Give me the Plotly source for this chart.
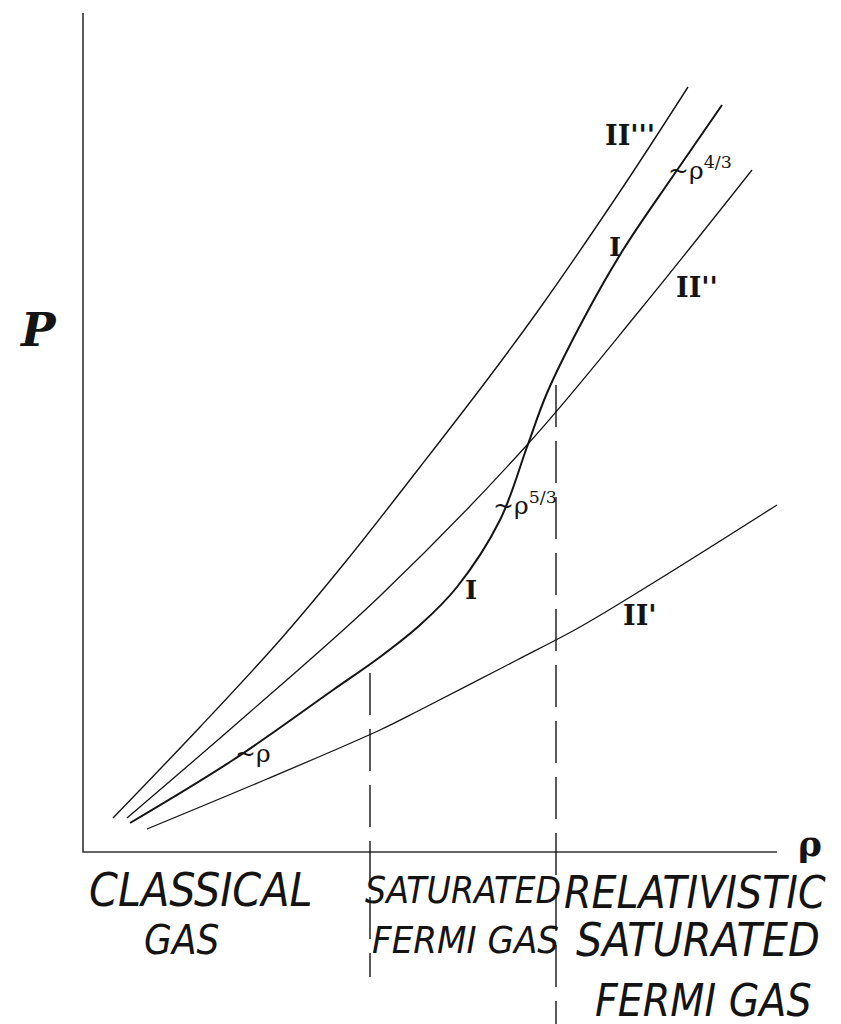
import plotly.graph_objects as go

# sketch units: density rho to the right, pressure P upward, origin at axis corner
rho_II3 = [30, 117, 197, 264, 337, 404, 457, 540, 605]
P_II3 = [34, 125, 212, 292, 385, 472, 544, 665, 765]

rho_I = [47, 150, 250, 297, 337, 374, 417, 444, 464, 500, 540, 590, 639]
P_I = [29, 92, 162, 195, 227, 265, 332, 405, 459, 532, 602, 676, 747]

rho_II2 = [44, 167, 297, 444, 557, 669]
P_II2 = [34, 140, 256, 407, 542, 682]

rho_II1 = [64, 184, 297, 337, 434, 497, 570, 694]
P_II1 = [23, 73, 122, 142, 192, 225, 269, 347]

# regime boundaries (dashed)
bound_rho = [287, 473]
bound_top = [179, 467]
bound_bottom = [-125, -172]

axis_rho_max = 694
axis_P_max = 839

ink = "#141414"
fig = go.Figure()

# axes
fig.add_trace(go.Scatter(x=[0, 0, axis_rho_max], y=[axis_P_max, 0, 0], mode="lines",
                         line=dict(color="#333", width=1.6), hoverinfo="skip"))

for xs, ys, w in [(rho_II3, P_II3, 1.4), (rho_II2, P_II2, 1.3),
                  (rho_II1, P_II1, 1.3), (rho_I, P_I, 2.0)]:
    fig.add_trace(go.Scatter(x=xs, y=ys, mode="lines",
                             line=dict(color=ink, width=w, shape="spline", smoothing=1.0),
                             hoverinfo="skip"))

for bx, bt, bb in zip(bound_rho, bound_top, bound_bottom):
    fig.add_trace(go.Scatter(x=[bx, bx], y=[bt, bb], mode="lines",
                             line=dict(color=ink, width=1.4, dash="42px,14px"),
                             hoverinfo="skip"))

serif = "DejaVu Serif, Liberation Serif, serif"
hand = "Liberation Sans Narrow, DejaVu Sans Condensed, sans-serif"

labels = [
    (547, 717, "II'''", 27, serif, True),
    (532, 605, "I", 26, serif, True),
    (614, 565, "II''", 27, serif, True),
    (388, 262, "I", 26, serif, True),
    (557, 237, "II'", 27, serif, True),
    (617, 684, "~ρ<sup>4/3</sup>", 25, serif, False),
    (442, 349, "~ρ<sup>5/3</sup>", 25, serif, False),
    (170, 99, "~ρ", 25, serif, False),
    (-45, 522, "<i>P</i>", 46, serif, True),
    (727, 9, "ρ", 36, serif, True),
]
for x, y, t, s, f, b in labels:
    txt = "<b>" + t + "</b>" if b else t
    fig.add_annotation(x=x, y=y, text=txt, showarrow=False,
                       font=dict(family=f, size=s, color=ink))

regimes = [
    (118, -38, "CLASSICAL", 46), (98, -88, "GAS", 40),
    (380, -38, "SATURATED", 37), (382, -88, "FERMI GAS", 38),
    (612, -40, "RELATIVISTIC", 44), (615, -88, "SATURATED", 46), (620, -148, "FERMI GAS", 44),
]
for x, y, t, s in regimes:
    fig.add_annotation(x=x, y=y, text="<i>" + t + "</i>", showarrow=False,
                       font=dict(family=hand, size=s, color=ink))

# ranges offset by the page's 8px body margin
fig.update_layout(
    width=841, height=1024, margin=dict(l=0, r=0, t=0, b=0),
    paper_bgcolor="white", plot_bgcolor="white", showlegend=False,
    xaxis=dict(range=[-75, 766], visible=False, fixedrange=True),
    yaxis=dict(range=[-180, 844], visible=False, fixedrange=True),
)

fig.write_html("out.html")
